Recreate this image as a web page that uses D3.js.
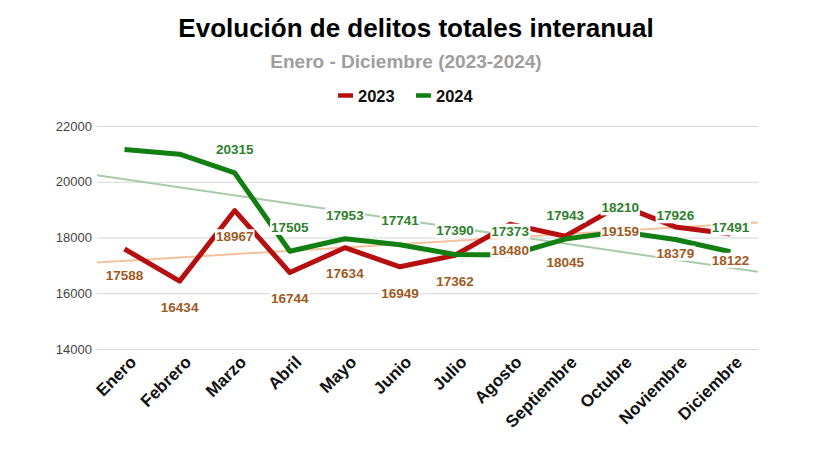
<!DOCTYPE html>
<html>
<head>
<meta charset="utf-8">
<script src="https://cdn.jsdelivr.net/npm/d3@7"></script>
<style>
  html, body { margin: 0; padding: 0; background: #fff; }
  svg { display: block; font-family: "Liberation Sans", Arial, sans-serif; }
</style>
</head>
<body>
<svg id="chart" width="819" height="460"></svg>
<script>
const months = ["Enero","Febrero","Marzo","Abril","Mayo","Junio","Julio","Agosto","Septiembre","Octubre","Noviembre","Diciembre"];
const values2023 = [17588,16434,18967,16744,17634,16949,17362,18480,18045,19159,18379,18122];
const values2024 = [21160,20990,20315,17505,17953,17741,17390,17373,17943,18210,17926,17491];
// labels shown in the reference (2024 Enero/Febrero have none)
const show2024 = [false,false,true,true,true,true,true,true,true,true,true,true];
const yTicks = [14000,16000,18000,20000,22000];
const seriesNames = ["2023","2024"];

const svg = d3.select("#chart");
const W = 819, H = 460;
const m = {left: 97, right: 61, top: 126, bottom: 111};
const x = d3.scalePoint().domain(months).range([m.left, W - m.right]).padding(0.5);
const y = d3.scaleLinear().domain([14000, 22000]).range([H - m.bottom, m.top]);

const colLine23 = "#b50f0f", colLine24 = "#127f12";
const colLab23 = "#9e5a1e", colLab24 = "#2e7f2e";
const colTrend23 = "#f3c29c", colTrend24 = "#a9cba9";

// Title
svg.append("text").attr("x", 416).attr("y", 37).attr("text-anchor", "middle")
  .attr("font-size", 26).attr("font-weight", "bold").attr("fill", "#000")
  .text("Evolución de delitos totales interanual");
svg.append("text").attr("x", 406).attr("y", 68).attr("text-anchor", "middle")
  .attr("font-size", 19).attr("font-weight", "bold").attr("fill", "#9e9e9e")
  .text("Enero - Diciembre (2023-2024)");

// Legend
const legend = [{name: seriesNames[0], c: colLine23, x: 338}, {name: seriesNames[1], c: colLine24, x: 416}];
legend.forEach(l => {
  svg.append("line").attr("x1", l.x).attr("x2", l.x + 15).attr("y1", 95.5).attr("y2", 95.5)
    .attr("stroke", l.c).attr("stroke-width", 4.5);
  svg.append("text").attr("x", l.x + 20).attr("y", 102).attr("font-size", 16.5).attr("font-weight", "bold")
    .attr("fill", "#111").text(l.name);
});

// Grid + y axis
const yAxis = d3.axisLeft(y).tickValues(yTicks).tickSize(-(W - m.left - m.right)).tickPadding(5).tickFormat(d3.format("d"));
const gy = svg.append("g").attr("transform", `translate(${m.left},0)`).call(yAxis);
gy.select(".domain").remove();
gy.selectAll(".tick line").attr("stroke", "#d6d6d6").attr("stroke-width", 1);
gy.selectAll(".tick text").attr("font-size", 13).attr("fill", "#444").attr("font-family", "Liberation Sans, Arial, sans-serif");

// x axis labels
const xAxis = d3.axisBottom(x).tickSize(0).tickPadding(0);
const gx = svg.append("g").attr("transform", `translate(0,${H - m.bottom})`).call(xAxis);
gx.select(".domain").remove();
gx.selectAll(".tick text")
  .attr("font-size", 17).attr("font-weight", "bold").attr("fill", "#111")
  .attr("font-family", "Liberation Sans, Arial, sans-serif")
  .attr("text-anchor", "end").attr("y", 0)
  .attr("transform", "translate(8,10) rotate(-45)")
  .attr("dy", "0.35em");

// Trendlines (linear regression over the data, across full plot width)
function regress(vals) {
  const n = vals.length;
  const xs = d3.range(n);
  const mx = d3.mean(xs), my = d3.mean(vals);
  const sxy = d3.sum(xs, i => (i - mx) * (vals[i] - my));
  const sxx = d3.sum(xs, i => (i - mx) * (i - mx));
  const b = sxy / sxx, a = my - b * mx;
  return i => a + b * i;
}
const step = x.step();
const x0 = x(months[0]);
const idxAt = px => (px - x0) / step;
[[values2023, colTrend23], [values2024, colTrend24]].forEach(([vals, c]) => {
  const f = regress(vals);
  const xl = m.left, xr = W - m.right;
  svg.append("line").attr("x1", xl).attr("x2", xr)
    .attr("y1", y(f(idxAt(xl)))).attr("y2", y(f(idxAt(xr))))
    .attr("stroke", c).attr("stroke-width", 2);
});

// Lines
const line = d3.line().x((d, i) => x(months[i])).y(d => y(d));
svg.append("path").datum(values2023).attr("d", line).attr("fill", "none")
  .attr("stroke", colLine23).attr("stroke-width", 5).attr("stroke-linejoin", "round");
svg.append("path").datum(values2024).attr("d", line).attr("fill", "none")
  .attr("stroke", colLine24).attr("stroke-width", 5).attr("stroke-linejoin", "round");

// Data labels with white backgrounds
function addLabel(px, py, txt, color) {
  const g = svg.append("g");
  const t = g.append("text").attr("x", px).attr("y", py).attr("dy", "0.35em")
    .attr("text-anchor", "middle").attr("font-size", 13.5).attr("font-weight", "bold")
    .attr("fill", color).text(txt);
  const bb = t.node().getBBox();
  g.insert("rect", "text").attr("x", bb.x - 1).attr("y", bb.y).attr("width", bb.width + 2)
    .attr("height", bb.height).attr("fill", "#fff");
}
values2023.forEach((v, i) => addLabel(x(months[i]), y(v) + 26, v, colLab23));
values2024.forEach((v, i) => { if (show2024[i]) addLabel(x(months[i]), y(v) - 24, v, colLab24); });
</script>
</body>
</html>
